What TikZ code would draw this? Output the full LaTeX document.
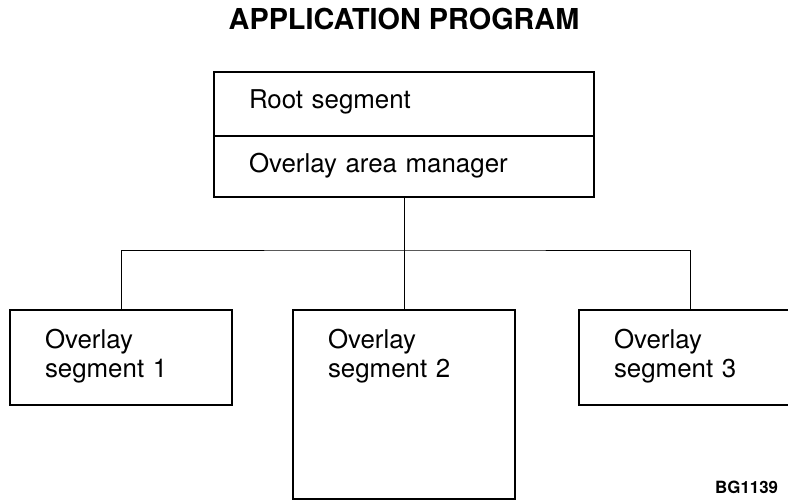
\documentclass[tikz,border=0pt]{standalone}
\usepackage{fontspec}
\setmainfont{TeX Gyre Heros}
\usepackage{tikz}
\usetikzlibrary{positioning}

\begin{document}
\begin{tikzpicture}[
  every node/.style={font=\fontsize{18.4}{21.3}\selectfont},
  raiz/.style={draw,line width=1.2pt,outer sep=0pt,inner ysep=0pt,
               inner xsep=0.875cm,text width=7.75cm,align=left,text height=0.9cm},
  capa/.style={draw,line width=1.2pt,outer sep=0pt,inner ysep=0pt,
               inner xsep=0.875cm,text width=3.8cm,align=left,
               text height=0.95cm,anchor=north},
  enlace/.style={line width=0.6pt}
]
\useasboundingbox (0,0) rectangle (19.7,-12.55);
\node[font=\fontsize{20.5}{24}\selectfont\bfseries,anchor=base] (titulo) at (10.1,-0.725) {APPLICATION PROGRAM};
\node[raiz,text depth=0.7cm,anchor=north] (raiz) at (10.1,-1.8) {Root segment};
\node[raiz,text depth=0.625cm,below=0pt of raiz] (gestor) {Overlay area manager};
\coordinate (bus) at (10.1,-6.25);
\foreach \i/\x/\d in {1/3.025/1.425,2/10.1/3.775,3/17.25/1.425}
  \node[capa,text depth=\d cm] (seg\i) at (\x,-7.75) {Overlay\\segment \i};
\draw[enlace] (gestor) -- (bus);
\draw[enlace] (seg1) |- (bus) -| (seg3);
\draw[enlace] (bus) -- (seg2);
\node[font=\fontsize{12}{14}\selectfont\bfseries,anchor=base east] (codigo) at (19.575,-12.325) {BG1139};
\end{tikzpicture}
\end{document}
